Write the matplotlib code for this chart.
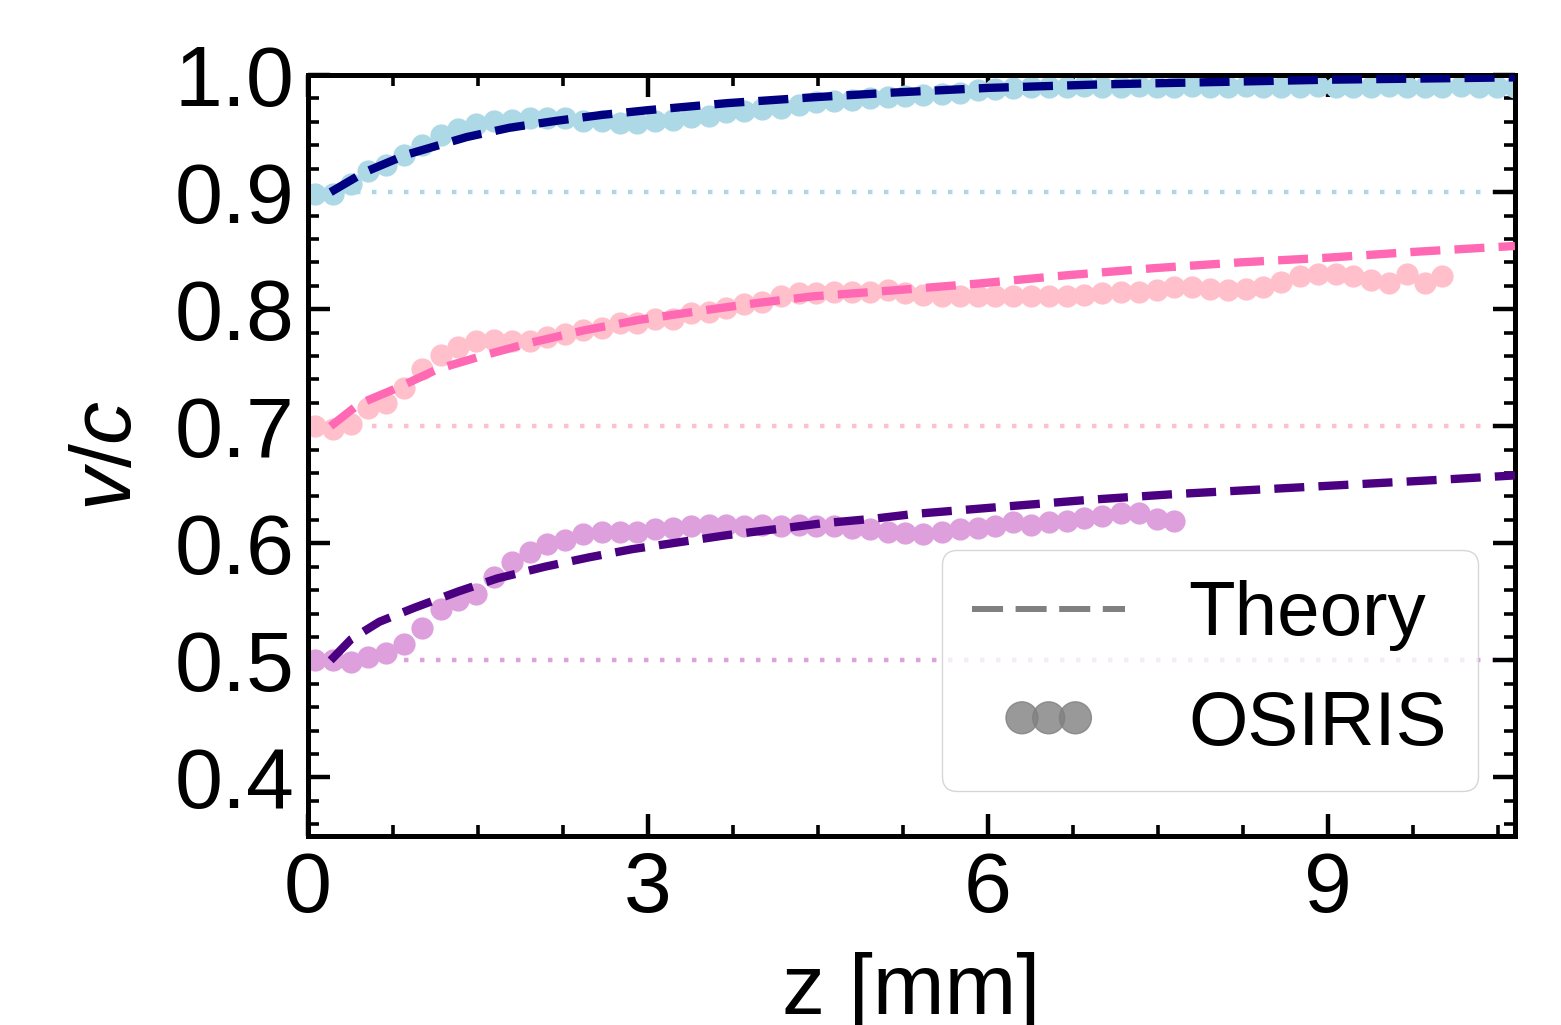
import numpy as np
import matplotlib
matplotlib.use("Agg")
import matplotlib.pyplot as plt
from matplotlib.ticker import MultipleLocator, FormatStrFormatter
from matplotlib.legend_handler import HandlerPathCollection
from matplotlib.collections import PathCollection

plt.rcParams['font.family'] = ['Liberation Sans', 'DejaVu Sans']
plt.rcParams['mathtext.fontset'] = 'custom'
plt.rcParams['mathtext.it'] = 'Liberation Sans:italic'
plt.rcParams['mathtext.rm'] = 'Liberation Sans'

# --- OSIRIS data (shared z grid, mm) ---
z_sim = [0.06, 0.22, 0.38, 0.53, 0.69, 0.85, 1.01, 1.17, 1.32, 1.48,
         1.64, 1.80, 1.96, 2.11, 2.27, 2.43, 2.59, 2.75, 2.90, 3.06,
         3.22, 3.38, 3.54, 3.69, 3.85, 4.01, 4.17, 4.33, 4.48, 4.64,
         4.80, 4.96, 5.12, 5.27, 5.43, 5.59, 5.75, 5.91, 6.06, 6.22,
         6.38, 6.54, 6.70, 6.85, 7.01, 7.17, 7.33, 7.49, 7.64, 7.80,
         7.96, 8.12, 8.28, 8.43, 8.59, 8.75, 8.91, 9.07, 9.22, 9.38,
         9.54, 9.70, 9.86, 10.01, 10.17, 10.33, 10.49, 10.65]

v_sim_09 = [0.898, 0.898, 0.907, 0.918, 0.923, 0.932, 0.940, 0.949, 0.954, 0.958,
            0.961, 0.962, 0.963, 0.963, 0.963, 0.961, 0.961, 0.959, 0.959, 0.961,
            0.962, 0.964, 0.965, 0.968, 0.969, 0.971, 0.972, 0.974, 0.977, 0.978,
            0.979, 0.980, 0.981, 0.982, 0.983, 0.984, 0.985, 0.987, 0.988, 0.989,
            0.990, 0.990, 0.990, 0.991, 0.990, 0.990, 0.991, 0.990, 0.990, 0.991,
            0.990, 0.990, 0.991, 0.990, 0.990, 0.990, 0.991, 0.990, 0.990, 0.990,
            0.991, 0.990, 0.990, 0.990, 0.991, 0.990, 0.990, 0.990]

v_sim_07 = [0.700, 0.698, 0.702, 0.716, 0.720, 0.733, 0.749, 0.761, 0.768, 0.773,
            0.774, 0.773, 0.773, 0.776, 0.779, 0.782, 0.784, 0.788, 0.788, 0.792,
            0.792, 0.797, 0.798, 0.801, 0.804, 0.806, 0.811, 0.814, 0.814, 0.815,
            0.815, 0.815, 0.816, 0.814, 0.812, 0.811, 0.811, 0.811, 0.811, 0.811,
            0.811, 0.811, 0.811, 0.812, 0.814, 0.815, 0.815, 0.816, 0.819, 0.819,
            0.817, 0.816, 0.817, 0.819, 0.823, 0.828, 0.830, 0.830, 0.828, 0.825,
            0.822, 0.830, 0.822, 0.828]

v_sim_05 = [0.500, 0.500, 0.499, 0.503, 0.506, 0.514, 0.528, 0.544, 0.552, 0.557,
            0.571, 0.584, 0.593, 0.599, 0.603, 0.608, 0.610, 0.610, 0.610, 0.612,
            0.613, 0.615, 0.616, 0.616, 0.615, 0.616, 0.615, 0.616, 0.615, 0.615,
            0.613, 0.612, 0.610, 0.609, 0.608, 0.610, 0.612, 0.613, 0.615, 0.618,
            0.616, 0.618, 0.619, 0.622, 0.623, 0.626, 0.626, 0.621, 0.619]

# --- Theory curves ---
z_th_09 = [0.2, 0.5, 0.87, 1.4, 1.78, 2.2, 2.6, 3.0, 3.7, 4.46, 5.16, 6.0, 7.0, 8.0, 9.0, 10.65]
v_th_09 = [0.900, 0.917, 0.932, 0.947, 0.955, 0.961, 0.966, 0.970, 0.976, 0.981,
           0.985, 0.989, 0.992, 0.994, 0.996, 0.998]

z_th_07 = [0.2, 0.45, 0.77, 1.15, 1.57, 1.95, 2.44, 2.93, 3.42, 3.94, 4.46, 5.16,
           5.93, 6.70, 7.46, 8.23, 9.0, 9.77, 10.65]
v_th_07 = [0.700, 0.719, 0.732, 0.749, 0.761, 0.771, 0.782, 0.791, 0.798, 0.805,
           0.811, 0.816, 0.822, 0.829, 0.835, 0.840, 0.844, 0.849, 0.854]

z_th_05 = [0.2, 0.38, 0.63, 0.94, 1.33, 1.67, 2.09, 2.48, 2.86, 3.28, 3.70, 4.12,
           4.53, 4.99, 5.34, 6.10, 6.87, 7.64, 8.41, 9.17, 9.94, 10.65]
v_th_05 = [0.500, 0.518, 0.533, 0.545, 0.559, 0.570, 0.580, 0.588, 0.595, 0.601,
           0.607, 0.612, 0.617, 0.621, 0.625, 0.631, 0.637, 0.642, 0.646, 0.650,
           0.654, 0.658]

v0_list = [0.9, 0.7, 0.5]
sim_colors = ['lightblue', 'pink', 'plum']
th_colors = ['navy', 'hotpink', 'indigo']

sims = [v_sim_09, v_sim_07, v_sim_05]
theories = [(z_th_09, v_th_09), (z_th_07, v_th_07), (z_th_05, v_th_05)]

fig = plt.figure(figsize=(15.61, 10.25), dpi=100)
ax = fig.add_axes([0.1973, 0.1844, 0.7732, 0.7424])

for v0, vs, (zt, vt), cs, ct in zip(v0_list, sims, theories, sim_colors, th_colors):
    ax.axhline(v0, color=cs, ls=(0, (1, 2.6)), lw=3.2, zorder=1)
    ax.plot(z_sim[:len(vs)], vs, 'o', color=cs, ms=16, mec='none', zorder=2)
    ax.plot(zt, vt, color=ct, lw=6, dashes=(3.6, 1.7), zorder=3)

# legend proxies
h_th, = ax.plot([], [], color='gray', lw=4.3, dashes=(5.2, 2.1), label='Theory')
h_sim = ax.scatter([], [], s=530, c='gray', alpha=0.8, label='OSIRIS')

ax.set_xlim(0, 10.65)
ax.set_ylim(0.35, 1.0)
ax.set_xticks([0, 3, 6, 9])
ax.xaxis.set_minor_locator(MultipleLocator(0.75))
ax.yaxis.set_major_locator(MultipleLocator(0.1))
ax.yaxis.set_minor_locator(MultipleLocator(0.02))
ax.yaxis.set_major_formatter(FormatStrFormatter('%.1f'))

ax.tick_params(which='both', direction='in', top=True, right=True, labelsize=62)
ax.tick_params(which='major', length=16, width=3.2, pad=10)
ax.tick_params(which='minor', length=8, width=2.6)
for s in ax.spines.values():
    s.set_linewidth(3.6)

ax.set_xlabel('z [mm]', fontsize=62, labelpad=16)
ax.set_ylabel('$v/c$', fontsize=62, labelpad=18)

ax.legend(handles=[h_th, h_sim], loc='lower right', bbox_to_anchor=(0.969, 0.059),
          borderaxespad=0, fontsize=55, handlelength=2.0, handletextpad=0.83,
          labelspacing=0.5, scatterpoints=3, scatteryoffsets=[0.5], framealpha=0.8,
          handler_map={PathCollection: HandlerPathCollection(marker_pad=0.65, numpoints=3)})

plt.savefig('out.png', dpi=100)
